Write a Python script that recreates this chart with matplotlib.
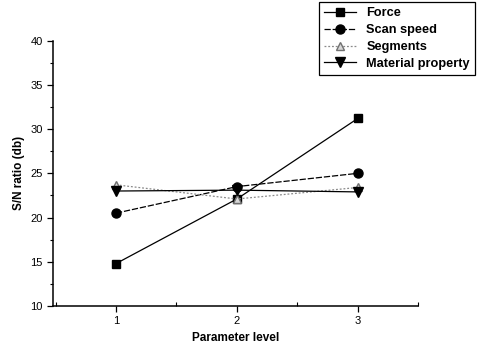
import matplotlib.pyplot as plt
from matplotlib.ticker import MultipleLocator

plt.rcParams['font.family'] = ['Liberation Sans', 'DejaVu Sans']

levels = [1, 2, 3]
force = [14.8, 22.1, 31.2]
scan_speed = [20.5, 23.5, 25.0]
segments = [23.7, 22.1, 23.4]
material = [23.0, 23.1, 22.9]

fig = plt.figure(figsize=(4.79, 3.47), dpi=100)
ax = fig.add_axes([0.111, 0.118, 0.762, 0.765])

ax.plot(levels, force, color='black', lw=0.9, marker='s', ms=6, label='Force')
ax.plot(levels, scan_speed, color='black', lw=0.9, ls=(0, (5, 1.5)), marker='o', ms=6.5,
        label='Scan speed')
ax.plot(levels, segments, color='#8a8a8a', lw=0.9, ls=(0, (1.5, 1.5)), marker='^', ms=6,
        mfc='#d8d8d8', mec='#707070', label='Segments')
ax.plot(levels, material, color='black', lw=0.9, marker='v', ms=6.5, label='Material property')

ax.set_xlim(0.48, 3.5)
ax.set_ylim(10, 40)
ax.xaxis.set_major_locator(MultipleLocator(1))
ax.xaxis.set_minor_locator(MultipleLocator(0.5))
ax.yaxis.set_major_locator(MultipleLocator(5))
ax.yaxis.set_minor_locator(MultipleLocator(2.5))
ax.tick_params(which='major', direction='out', length=4, width=0.9, labelsize=8)
ax.tick_params(axis='x', which='minor', direction='in', length=3, width=0.8)
ax.tick_params(axis='y', which='minor', direction='out', length=2.5, width=0.8)
ax.spines['top'].set_visible(False)
ax.spines['right'].set_visible(False)
ax.spines['left'].set_linewidth(1.1)
ax.spines['bottom'].set_linewidth(1.1)

ax.set_xlabel('Parameter level', fontsize=8.5, fontweight='bold')
ax.set_ylabel('S/N ratio (db)', fontsize=8.5, fontweight='bold')

leg = fig.legend(loc='upper right', bbox_to_anchor=(1.005, 1.012), fancybox=False,
                 edgecolor='black', framealpha=1, prop={'weight': 'bold', 'size': 9.2},
                 handlelength=2.5, labelspacing=0.38, borderpad=0.4)
leg.get_frame().set_linewidth(0.9)

fig.savefig('out.png', dpi=100)
